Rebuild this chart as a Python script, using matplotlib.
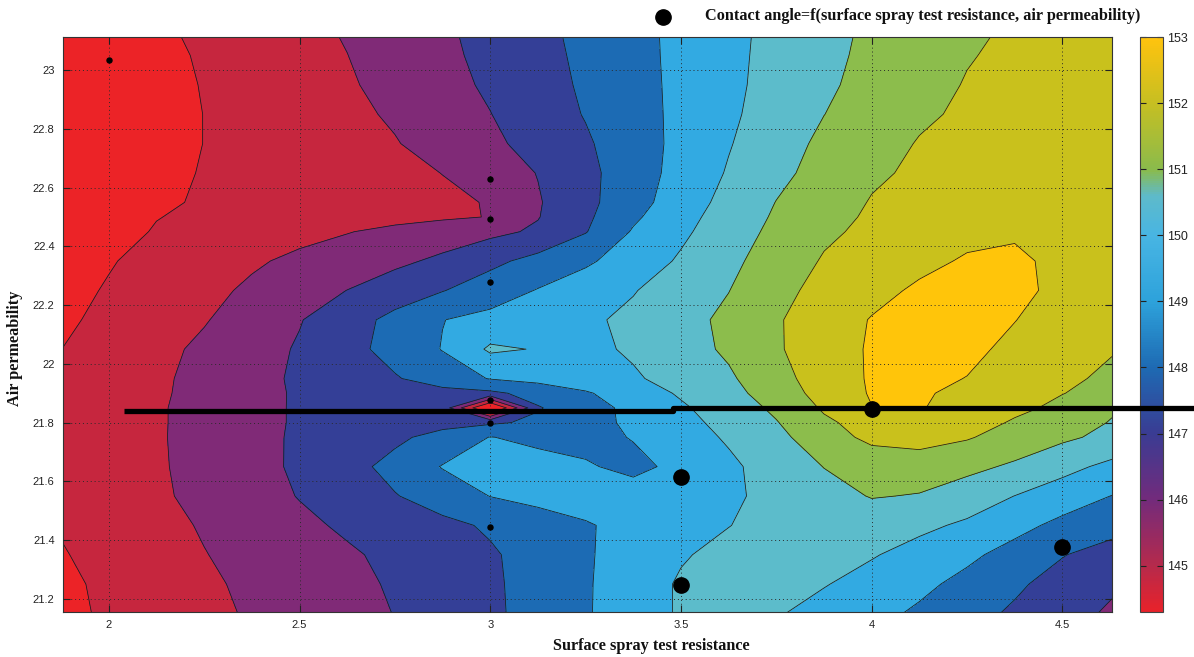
import numpy as np
import matplotlib
matplotlib.use("Agg")
import matplotlib.pyplot as plt
from matplotlib.colors import LinearSegmentedColormap, Normalize
from matplotlib.lines import Line2D
import matplotlib.cm as cm

# ---------------- data ----------------
resistance = [1.88, 2.0, 2.125, 2.25, 2.375, 2.5, 2.625, 2.75, 2.875, 3.0, 3.125, 3.25,
              3.375, 3.5, 3.625, 3.75, 3.875, 4.0, 4.125, 4.25, 4.375, 4.5, 4.63]
permeability = [21.15, 21.25, 21.35, 21.45, 21.55, 21.65, 21.75, 21.80, 21.85, 21.90, 21.95,
                22.05, 22.15, 22.25, 22.35, 22.45, 22.50, 22.55, 22.65, 22.75, 22.85, 22.95,
                23.05, 23.12]
# contact angle, one row per permeability value (bottom to top)
contact_angle = [
    [144.80, 145.12, 145.45, 145.76, 146.10, 146.41, 146.71, 147.02, 147.42, 147.83, 148.34, 148.91, 149.53, 150.10, 150.50, 150.08, 149.67, 149.28, 148.85, 148.34, 147.85, 147.37, 146.85],
    [144.80, 145.20, 145.53, 145.85, 146.17, 146.47, 146.77, 147.10, 147.47, 147.85, 148.35, 148.90, 149.54, 150.10, 150.40, 150.35, 150.05, 149.66, 149.22, 148.73, 148.17, 147.60, 147.15],
    [144.95, 145.29, 145.64, 145.97, 146.28, 146.58, 146.88, 147.21, 147.54, 147.89, 148.36, 148.90, 149.41, 149.92, 150.25, 150.45, 150.40, 150.07, 149.67, 149.20, 148.65, 148.05, 147.55],
    [145.08, 145.35, 145.72, 146.08, 146.44, 146.80, 147.14, 147.46, 147.77, 148.12, 148.52, 148.92, 149.28, 149.64, 149.98, 150.30, 150.50, 150.45, 150.20, 149.85, 149.30, 148.75, 148.40],
    [145.22, 145.56, 145.88, 146.20, 146.62, 147.04, 147.49, 147.95, 148.45, 149.02, 149.30, 149.40, 149.45, 149.60, 149.85, 150.25, 150.65, 151.05, 150.95, 150.50, 149.99, 149.50, 148.98],
    [145.30, 145.62, 145.90, 146.27, 146.70, 147.15, 147.67, 148.30, 149.05, 149.40, 149.40, 149.10, 148.75, 149.25, 149.82, 150.41, 151.02, 151.35, 151.45, 151.25, 150.85, 150.30, 149.75],
    [145.30, 145.63, 145.91, 146.30, 146.73, 147.13, 147.46, 147.81, 148.33, 149.03, 148.75, 148.70, 149.05, 149.58, 150.11, 150.75, 151.54, 152.25, 152.40, 152.08, 151.60, 151.17, 150.75],
    [145.28, 145.62, 145.90, 146.31, 146.74, 147.10, 147.35, 147.55, 147.70, 147.85, 148.19, 148.67, 149.18, 149.71, 150.29, 150.95, 151.83, 152.40, 152.60, 152.40, 151.90, 151.40, 150.95],
    [145.25, 145.60, 145.90, 146.31, 146.74, 147.10, 147.35, 147.50, 147.60, 143.50, 147.93, 148.55, 149.29, 149.87, 150.48, 151.18, 152.12, 152.98, 153.05, 152.70, 152.20, 151.80, 151.10],
    [145.20, 145.55, 145.86, 146.29, 146.73, 147.10, 147.35, 147.55, 147.70, 147.80, 148.34, 148.90, 149.50, 150.11, 150.69, 151.46, 152.36, 153.08, 153.10, 152.80, 152.45, 152.02, 151.70],
    [145.15, 145.50, 145.84, 146.27, 146.71, 147.14, 147.52, 147.92, 148.46, 149.05, 149.30, 149.55, 149.90, 150.31, 150.86, 151.65, 152.48, 153.10, 153.20, 152.98, 152.50, 152.15, 151.85],
    [145.01, 145.37, 145.76, 146.17, 146.62, 147.09, 147.68, 148.35, 149.04, 150.15, 149.95, 149.80, 150.11, 150.61, 151.15, 151.89, 152.55, 153.10, 153.35, 153.20, 152.80, 152.45, 152.05],
    [144.85, 145.22, 145.58, 145.94, 146.43, 146.95, 147.58, 148.27, 148.98, 149.28, 149.56, 149.84, 150.20, 150.67, 151.21, 151.91, 152.49, 153.05, 153.30, 153.40, 153.02, 152.60, 152.30],
    [144.75, 145.07, 145.42, 145.76, 146.15, 146.58, 147.01, 147.49, 147.96, 148.51, 149.05, 149.50, 149.95, 150.47, 150.98, 151.73, 152.28, 152.71, 153.15, 153.35, 153.25, 152.75, 152.45],
    [144.63, 144.94, 145.26, 145.57, 145.88, 146.19, 146.49, 146.80, 147.19, 147.76, 148.32, 148.85, 149.47, 150.12, 150.77, 151.46, 152.08, 152.41, 152.76, 153.10, 153.15, 152.80, 152.50],
    [144.45, 144.75, 145.05, 145.28, 145.51, 145.74, 145.96, 146.23, 146.50, 146.77, 147.14, 147.95, 149.09, 149.82, 150.54, 151.23, 151.84, 152.20, 152.50, 152.75, 152.90, 152.75, 152.55],
    [144.35, 144.66, 144.98, 145.13, 145.28, 145.43, 145.57, 145.72, 145.87, 146.03, 146.96, 147.82, 148.84, 149.68, 150.42, 151.12, 151.71, 152.12, 152.40, 152.60, 152.75, 152.70, 152.55],
    [144.25, 144.55, 144.87, 145.09, 145.25, 145.40, 145.56, 145.71, 145.87, 146.04, 146.92, 147.74, 148.62, 149.51, 150.30, 151.02, 151.58, 152.05, 152.20, 152.40, 152.55, 152.60, 152.55],
    [144.15, 144.45, 144.77, 145.05, 145.24, 145.44, 145.62, 145.82, 146.01, 146.52, 147.03, 147.74, 148.53, 149.33, 150.08, 150.76, 151.34, 151.87, 152.14, 152.33, 152.52, 152.60, 152.60],
    [144.07, 144.37, 144.69, 145.01, 145.24, 145.48, 145.71, 145.95, 146.35, 146.81, 147.33, 147.88, 148.55, 149.25, 149.94, 150.60, 151.19, 151.66, 152.05, 152.24, 152.44, 152.63, 152.75],
    [144.07, 144.37, 144.69, 145.01, 145.27, 145.54, 145.80, 146.11, 146.55, 146.98, 147.53, 148.05, 148.63, 149.22, 149.84, 150.42, 150.99, 151.43, 151.87, 152.13, 152.32, 152.52, 152.71],
    [144.10, 144.41, 144.73, 145.04, 145.33, 145.62, 145.90, 146.28, 146.70, 147.14, 147.64, 148.13, 148.67, 149.22, 149.79, 150.33, 150.85, 151.29, 151.70, 152.05, 152.24, 152.44, 152.63],
    [144.15, 144.46, 144.78, 145.09, 145.39, 145.70, 145.99, 146.40, 146.80, 147.24, 147.71, 148.19, 148.70, 149.23, 149.77, 150.29, 150.78, 151.20, 151.58, 151.95, 152.17, 152.36, 152.56],
    [144.22, 144.53, 144.85, 145.15, 145.45, 145.75, 146.06, 146.46, 146.85, 147.29, 147.76, 148.23, 148.72, 149.23, 149.76, 150.26, 150.74, 151.16, 151.52, 151.87, 152.12, 152.32, 152.51],
]

levels = [140, 145, 146, 147, 148, 149, 150, 151, 152, 153, 160]
band_colors = ["#EC2327", "#C6263E", "#802A77", "#343F97", "#1C6BB4", "#32AAE2",
               "#5CBCCB", "#8CBD4C", "#C9C11C", "#FFC50A"]

small_pts_x = [2.0, 3.0, 3.0, 3.0, 3.0, 3.0, 3.0]
small_pts_y = [23.034, 22.629, 22.493, 22.279, 21.877, 21.797, 21.444]
big_pts_x = [4.0, 3.5, 3.5, 4.5]
big_pts_y = [21.846, 21.615, 21.246, 21.378]

line_x = [2.04, 3.48, 3.48, 4.85]
line_y = [21.841, 21.841, 21.848, 21.848]

xticks = [2, 2.5, 3, 3.5, 4, 4.5]
xtick_labels = ["2", "2.5", "3", "3.5", "4", "4.5"]
yticks = [21.2, 21.4, 21.6, 21.8, 22.0, 22.2, 22.4, 22.6, 22.8, 23.0]
ytick_labels = ["21.2", "21.4", "21.6", "21.8", "22", "22.2", "22.4", "22.6", "22.8", "23"]
cbar_ticks = [145, 146, 147, 148, 149, 150, 151, 152, 153]

cbar_anchor_vals = [144.3, 145.0, 146.0, 147.0, 148.0, 149.0, 150.0, 150.6, 151.0, 152.0, 153.0]
cbar_anchor_cols = ["#E8222A", "#B52A4C", "#722B7C", "#3A3C93", "#1E6AB3", "#2DA2DB",
                    "#48B5E3", "#5EBACA", "#8ABB4C", "#C6BF22", "#FFC30E"]

# ---------------- figure ----------------
W, H = 1194, 657
fig = plt.figure(figsize=(W / 100, H / 100), dpi=100)
ax = fig.add_axes([63 / W, 45 / H, 1049 / W, 575 / H])
cax = fig.add_axes([1140 / W, 45 / H, 23 / W, 575 / H])

X, Y = np.meshgrid(np.array(resistance), np.array(permeability))
Z = np.array(contact_angle)

ax.contourf(X, Y, Z, levels=levels, colors=band_colors, zorder=0)
ax.contour(X, Y, Z, levels=levels[1:-1], colors="#1a1a1a", linewidths=0.55, zorder=1)

ax.set_xlim(1.88, 4.63)
ax.set_ylim(21.155, 23.113)
ax.set_xticks(xticks)
ax.set_xticklabels(xtick_labels)
ax.set_yticks(yticks)
ax.set_yticklabels(ytick_labels)
ax.tick_params(direction="in", top=True, right=True, length=5, width=0.8,
               labelsize=8, colors="#222222", pad=6)
for lab in ax.get_xticklabels() + ax.get_yticklabels():
    lab.set_fontfamily("Liberation Sans")
ax.set_axisbelow(False)
ax.grid(True, linestyle=(0, (1, 3)), color="#2a2a2a", linewidth=0.7)
for s in ax.spines.values():
    s.set_linewidth(0.8)
    s.set_color("#333333")

ax.plot(small_pts_x, small_pts_y, "o", color="k", ms=3.6, zorder=4)
ax.plot(big_pts_x, big_pts_y, "o", color="k", ms=11, zorder=5)

# thick horizontal line running past the axes
fig.add_artist(Line2D(line_x, line_y, color="k", lw=3.8, transform=ax.transData,
                      clip_on=False, solid_capstyle="butt", zorder=10))

# colorbar
cbar_cmap = LinearSegmentedColormap.from_list(
    "ca", [((v - cbar_anchor_vals[0]) / (cbar_anchor_vals[-1] - cbar_anchor_vals[0]), c)
           for v, c in zip(cbar_anchor_vals, cbar_anchor_cols)], N=256)
sm = cm.ScalarMappable(norm=Normalize(cbar_anchor_vals[0], cbar_anchor_vals[-1]), cmap=cbar_cmap)
cb = fig.colorbar(sm, cax=cax, ticks=cbar_ticks)
cb.outline.set_linewidth(0.8)
cb.outline.set_edgecolor("#444444")
cax.yaxis.set_ticks_position("both")
cax.tick_params(direction="in", length=4, width=0.8, labelsize=9, colors="#222222", pad=3)
cax.set_yticklabels([str(t) for t in cbar_ticks], fontfamily="Liberation Sans")

# labels
serif_size = 11.7
fig.text(651 / W, 1 - 646 / H, "Surface spray test resistance", ha="center", va="center",
         fontfamily="Liberation Serif", fontweight="bold", fontsize=serif_size, color="#111111")
fig.text(15 / W, 1 - 348 / H, "Air permeability", ha="center", va="center", rotation=90,
         fontfamily="Liberation Serif", fontweight="bold", fontsize=serif_size, color="#111111")

# legend
fig.add_artist(Line2D([663 / W], [1 - 17 / H], marker="o", ms=11, color="k", ls="",
                      transform=fig.transFigure))
fig.text(705 / W, 1 - 16 / H, "Contact angle=f(surface spray test resistance, air permeability)",
         ha="left", va="center", fontfamily="Liberation Serif", fontweight="bold",
         fontsize=serif_size, color="#111111")

fig.savefig("out.png", dpi=100)
